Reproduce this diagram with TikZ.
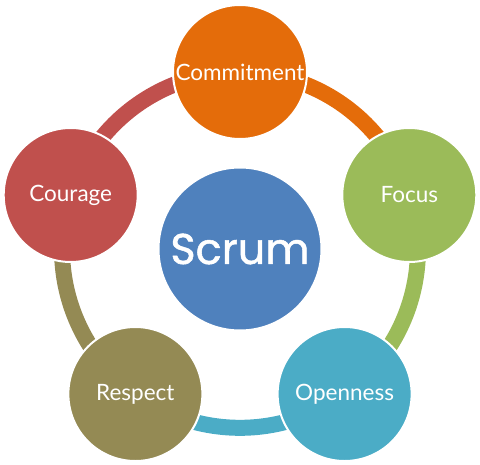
\documentclass[tikz,border=0pt]{standalone}
\usepackage{fontspec}
\setmainfont{Lato}
\newfontfamily\scrumfont[FakeBold=1.2]{Poppins}
\usetikzlibrary{backgrounds}

\definecolor{cmtorange}{HTML}{E46C0A}
\definecolor{focgreen}{HTML}{9BBB59}
\definecolor{opncyan}{HTML}{4BACC6}
\definecolor{rspolive}{HTML}{948A54}
\definecolor{crgred}{HTML}{C0504D}
\definecolor{scrblue}{HTML}{4F81BD}

\begin{document}
\begin{tikzpicture}[x=1pt, y=1pt,
    value/.style={circle, draw=white, line width=2pt, minimum size=134pt,
      inner sep=0pt, text=white, font=\fontsize{22.5}{26}\selectfont},
    ring/.style={line width=16pt, bend left=36, looseness=0.94}]
    \pgfmathsetmacro{\rr}{178}
    \useasboundingbox (-240,-214) rectangle (240,250);
    % the five values round the ring
    \node[value, fill=cmtorange] (commit) at (90:\rr) {Commitment};
    \node[value, fill=focgreen] (focus) at (18:\rr) {Focus};
    \node[value, fill=opncyan] (open) at (-54:\rr) {Openness};
    \node[value, fill=rspolive] (respect) at (-126:\rr) {Respect};
    \node[value, fill=crgred] (courage) at (162:\rr) {Courage};
    % centre
    \node[value, fill=scrblue, minimum size=163pt,
      font=\scrumfont\fontsize{43}{46}\selectfont] (scrum) at (0,1) {Scrum};
    % ring segments, behind the circles
    \begin{scope}[on background layer]
      \draw[ring, cmtorange] (commit.center) to (focus.center);
      \draw[ring, focgreen] (focus.center) to (open.center);
      \draw[ring, opncyan] (open.center) to (respect.center);
      \draw[ring, rspolive] (respect.center) to (courage.center);
      \draw[ring, crgred] (courage.center) to (commit.center);
    \end{scope}
\end{tikzpicture}
\end{document}
